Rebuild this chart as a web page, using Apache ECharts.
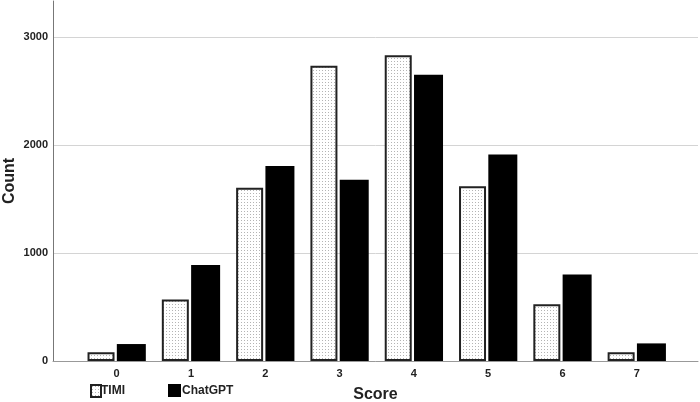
<!DOCTYPE html>
<html>
<head>
<meta charset="utf-8">
<script src="https://cdn.jsdelivr.net/npm/echarts@6/dist/echarts.min.js"></script>
<style>
html,body{margin:0;padding:0;background:#fff;}
#chart{width:700px;height:402px;}
</style>
</head>
<body>
<div id="chart"></div>
<script>
const scores = [0, 1, 2, 3, 4, 5, 6, 7];
const timiCounts = [80, 570, 1605, 2734, 2830, 1617, 526, 80];
const chatgptCounts = [157, 888, 1806, 1679, 2651, 1913, 802, 163];
const yTicks = [0, 1000, 2000, 3000];
const seriesNames = ['TIMI', 'ChatGPT'];

function makePattern() {
  const c = document.createElement('canvas');
  c.width = 3; c.height = 3;
  const g = c.getContext('2d');
  g.fillStyle = '#ffffff';
  g.fillRect(0, 0, 3, 3);
  g.fillStyle = '#b4b4b4';
  g.fillRect(1, 1, 1, 1);
  return c;
}
const dotPattern = { image: makePattern(), repeat: 'repeat' };

const font = '"Liberation Sans", Arial, sans-serif';
const chart = echarts.init(document.getElementById('chart'));
chart.setOption({
  animation: false,
  backgroundColor: '#ffffff',
  textStyle: { fontFamily: font },
  grid: { left: 53, right: 2, top: 1, bottom: 41, containLabel: false, outerBoundsMode: 'none' },
  legend: [
    {
      data: [{ name: seriesNames[0], icon: 'rect' }], left: 90, top: 384, padding: 0,
      itemWidth: 10, itemHeight: 12,
      textStyle: { fontFamily: font, fontSize: 12, fontWeight: 'bold', color: '#222', padding: [0, 0, 0, -5] }
    },
    {
      data: [{ name: seriesNames[1], icon: 'rect' }], left: 168, top: 384, padding: 0,
      itemWidth: 13, itemHeight: 13,
      textStyle: { fontFamily: font, fontSize: 12, fontWeight: 'bold', color: '#222', padding: [0, 0, 0, -4] }
    }
  ],
  xAxis: {
    type: 'value',
    min: -0.857,
    max: 7.824,
    name: 'Score',
    nameLocation: 'middle',
    nameGap: 26,
    nameMoveOverlap: false,
    nameTextStyle: { fontFamily: font, fontSize: 16, fontWeight: 'bold', color: '#222' },
    axisLine: { show: true, onZero: false, lineStyle: { color: '#999', width: 1 } },
    axisTick: { show: false, customValues: scores },
    splitLine: { show: false },
    axisLabel: {
      customValues: scores,
      margin: 7,
      fontFamily: font, fontSize: 11, fontWeight: 'bold', color: '#222'
    }
  },
  yAxis: {
    type: 'value',
    min: 0,
    max: 3333,
    name: 'Count',
    nameLocation: 'middle',
    nameGap: 35,
    nameMoveOverlap: false,
    nameTextStyle: { fontFamily: font, fontSize: 16, fontWeight: 'bold', color: '#222' },
    axisLine: { show: true, onZero: false, lineStyle: { color: '#777', width: 1 } },
    axisTick: { show: false, customValues: yTicks },
    splitLine: { show: true, lineStyle: { color: '#d4d4d4', width: 1 } },
    axisLabel: {
      customValues: yTicks,
      margin: 5,
      formatter: v => String(v),
      fontFamily: font, fontSize: 11, fontWeight: 'bold', color: '#222'
    }
  },
  series: [
    {
      name: seriesNames[0],
      type: 'bar',
      barWidth: 27,
      barGap: '8.5%',
      data: scores.map((s, i) => [s, timiCounts[i]]),
      itemStyle: { color: dotPattern, borderColor: '#222', borderWidth: 2 }
    },
    {
      name: seriesNames[1],
      type: 'bar',
      barWidth: 29,
      barGap: '8.5%',
      data: scores.map((s, i) => [s, chatgptCounts[i]]),
      itemStyle: { color: '#000000' }
    }
  ]
});
</script>
</body>
</html>
